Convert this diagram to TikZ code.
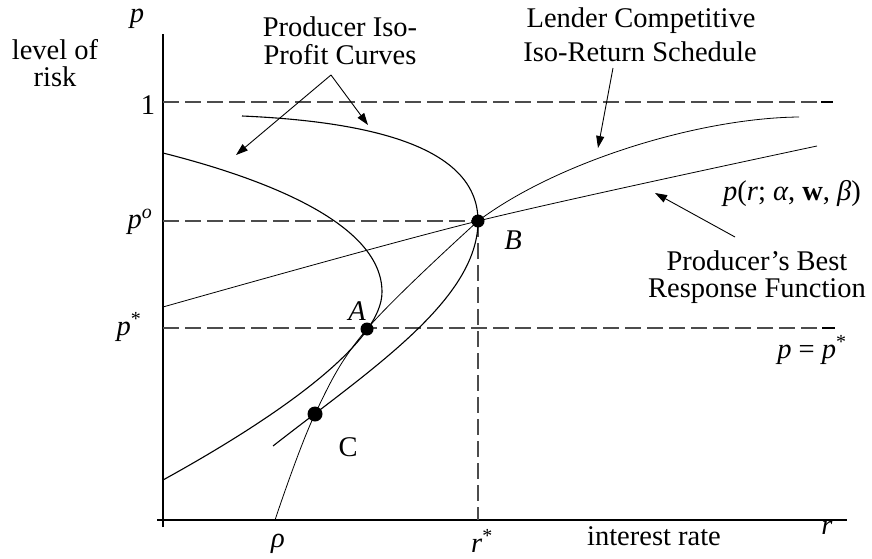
\documentclass[tikz,border=0pt]{standalone}
\usepackage{fontspec}
\setmainfont{Liberation Serif}
\usetikzlibrary{arrows.meta}
\begin{document}
\begin{tikzpicture}[x=1pt,y=-1pt,
  lbl/.style={font=\fontsize{28.5}{28}\selectfont, inner sep=0pt, anchor=base},
  axisline/.style={line width=1.2pt},
  guide/.style={line width=1.1pt, black!70, dash pattern=on 16pt off 6pt},
  tickend/.style={line width=1.2pt},
  profit/.style={line width=1.1pt},
  thincurve/.style={line width=0.8pt},
  ptr/.style={line width=0.9pt, -{Triangle[length=12pt,width=8pt]}},
  dotmark/.style={circle, fill=black, inner sep=0pt, minimum size=13pt}]
\useasboundingbox (0,0) rectangle (872,559);

% key points
\coordinate (pA) at (367,329);
\coordinate (pB) at (478,221);
\coordinate (pC) at (315,414);

% axes
\coordinate (ytop) at (163,34);
\coordinate (ybot) at (163,527);
\coordinate (xl) at (157,520);
\coordinate (xr) at (847,520);
\draw[axisline] (ybot) -- (ytop);
\draw[axisline] (xl) -- (xr);

% guide lines
\coordinate (one0) at (163,102);
\coordinate (one1) at (833,102);
\coordinate (onet) at (821,102);
\draw[guide] (one0) -- (one1);
\draw[tickend] (onet) -- (one1);
\coordinate (po0) at (163,221);
\draw[guide] (po0) -- (pB);
\coordinate (ps0) at (163,328);
\coordinate (ps1) at (835,328);
\coordinate (pst) at (822,328);
\draw[guide] (ps0) -- (ps1);
\draw[tickend] (pst) -- (ps1);
\coordinate (rs) at (478,520);
\draw[guide] (pB) -- (rs);

% best response function
\draw[thincurve] plot[smooth] coordinates {(163,307) (478,221) (817,146)};

% lender iso-return schedule
\coordinate (rhoPt) at (275,520);
\coordinate (lendEnd) at (799,117);
\draw[thincurve] plot[smooth, tension=0.6] coordinates {(rhoPt) (pC) (pA) (pB)}
   .. controls (558,161) and (700,118) .. (lendEnd);

% inner iso-profit curve (tangent to the schedule at A)
\coordinate (in0) at (163,153);
\coordinate (inT) at (382,292);
\coordinate (in1) at (163,480);
\draw[profit] (in0) .. controls (270,180) and (382,225) .. (inT)
              .. controls (382,340) and (290,410) .. (in1);

% outer iso-profit curve (through B and C)
\coordinate (out0) at (242,116);
\coordinate (out1) at (273,446);
\draw[profit] (out0) .. controls (380,122) and (478,150) .. (pB)
              .. controls (478,300) and (370,370) .. (out1);

% dots
\node[dotmark] (A) at (pA) {};
\node[dotmark] (B) at (pB) {};
\node[dotmark, minimum size=15pt] (C) at (pC) {};

% labels
\node[lbl] (yl) at (137,23) {\textit{p}};
\node[lbl] (risk1) at (55,60) {level of};
\node[lbl] (risk2) at (55,87) {risk};
\node[lbl] (one) at (148,114) {1};
\node[lbl] (po) at (140,228) {\textit{p}\textsuperscript{\textit{o}}};
\node[lbl] (ps) at (129,335) {\textit{p}\textsuperscript{*}};
\node[lbl] (lA) at (357,320) {\textit{A}};
\node[lbl] (lB) at (513,249) {\textit{B}};
\node[lbl] (lC) at (348,456) {C};
\node[lbl] (rho) at (278,547) {\textit{ρ}};
\node[lbl] (rst) at (482,552) {\textit{r}\textsuperscript{*}};
\node[lbl] (ir) at (654,545) {interest rate};
\node[lbl] (xlbl) at (827,534) {\textit{r}};
\node[lbl] (pi1) at (340,37) {Producer Iso-};
\node[lbl] (pi2) at (340,65) {Profit Curves};
\node[lbl] (le1) at (641,28) {Lender Competitive};
\node[lbl] (le2) at (640,62) {Iso-Return Schedule};
\node[lbl] (br1) at (757,270) {Producer’s Best};
\node[lbl] (br2) at (757,297) {Response Function};
\node[lbl] (brf) at (792,200) {\textit{p}(\textit{r}; \textit{α}, \textbf{w}, \textit{β})};
\node[lbl] (peq) at (812,358) {\textit{p} = \textit{p}\textsuperscript{*}};

% pointers
\coordinate (pfa) at (331,75);
\coordinate (pft1) at (236,155);
\coordinate (pft2) at (368,125);
\draw[ptr] (pfa) -- (pft1);
\draw[ptr] (pfa) -- (pft2);
\coordinate (lea) at (613,68);
\coordinate (let) at (598,148);
\draw[ptr] (lea) -- (let);
\coordinate (bra) at (735,237);
\coordinate (brt) at (655,193);
\draw[ptr] (bra) -- (brt);
\end{tikzpicture}
\end{document}
